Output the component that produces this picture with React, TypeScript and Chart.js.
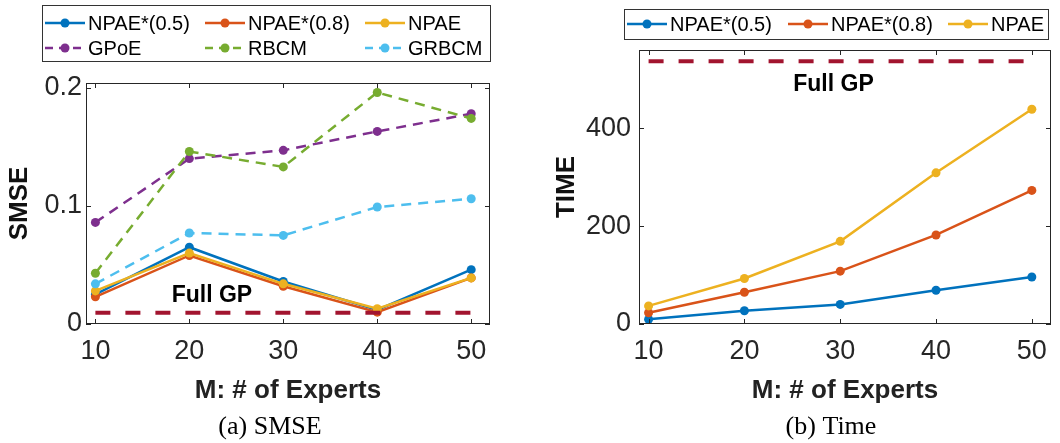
import React, { useEffect, useRef } from "react";
import { Chart, registerables } from "chart.js";

Chart.register(...registerables);

// ---------- data ----------
const experts = [10, 20, 30, 40, 50];
const expertTicks = [10, 20, 30, 40, 50];

const smseNpae05 = [0.025, 0.065, 0.036, 0.012, 0.046];
const smseNpae08 = [0.023, 0.058, 0.032, 0.01, 0.039];
const smseNpae = [0.028, 0.06, 0.034, 0.013, 0.039];
const smseGpoe = [0.086, 0.14, 0.147, 0.163, 0.178];
const smseRbcm = [0.043, 0.146, 0.133, 0.196, 0.174];
const smseGrbcm = [0.034, 0.077, 0.075, 0.099, 0.106];
const smseFullGp = 0.0095;
const smseTicks = [0, 0.1, 0.2];

const timeNpae05 = [9.5, 27, 40, 69, 96];
const timeNpae08 = [23, 65, 108, 182, 273];
const timeNpae = [37, 93, 169, 309, 439];
const timeFullGp = 537;
const timeTicks = [0, 200, 400];

const seriesNames = ["NPAE*(0.5)", "NPAE*(0.8)", "NPAE", "GPoE", "RBCM", "GRBCM"];
const fullGpName = "Full GP";

const COLORS = ["#0072BD", "#D95319", "#EDB120", "#7E2F8E", "#77AC30", "#4DBEEE"];
const FULLGP_COLOR = "#A2142F";
const AXIS_COLOR = "#262626";
const SANS = "'Liberation Sans', Arial, sans-serif";
const SERIF = "'Liberation Serif', 'Times New Roman', serif";

const toPts = (ys: number[]) => ys.map((y, i) => ({ x: experts[i], y }));
const flatLine = (v: number) => [
  { x: experts[0], y: v },
  { x: experts[experts.length - 1], y: v },
];

function seriesDataset(i: number, ys: number[], dashed: boolean, n: number) {
  return {
    label: seriesNames[i],
    data: toPts(ys),
    borderColor: COLORS[i],
    backgroundColor: COLORS[i],
    borderWidth: 2.5,
    borderDash: dashed ? [10, 7] : [],
    pointRadius: 4.5,
    pointBackgroundColor: COLORS[i],
    pointBorderWidth: 0,
    fill: false,
    tension: 0,
    order: n - i,
  };
}

function fullGpDataset(v: number) {
  return {
    label: fullGpName,
    data: flatLine(v),
    borderColor: FULLGP_COLOR,
    backgroundColor: FULLGP_COLOR,
    borderWidth: 4,
    borderDash: [15, 15],
    pointRadius: 0,
    fill: false,
    order: 0,
  };
}

type Spec = {
  datasets: any[];
  yMax: number;
  yTicks: number[];
  yTitle: string;
  yTitlePad: number;
  yTickPad: number;
  yWidth: number;
  top: number;
  right: number;
  legendBox: [number, number, number, number];
  legendCols: number[];
  legendRows: number[];
  legendCount: number;
  label: { x: number; y: number };
  caption: { text: string; x: number; y: number };
};

function makePlugin(spec: Spec) {
  return {
    id: "decor",
    afterDraw(chart: any) {
      const ctx = chart.ctx;
      const a = chart.chartArea;
      const xs = chart.scales.x;
      const ys = chart.scales.y;
      ctx.save();
      // frame
      ctx.strokeStyle = AXIS_COLOR;
      ctx.lineWidth = 1;
      ctx.setLineDash([]);
      ctx.strokeRect(a.left + 0.5, a.top + 0.5, a.right - a.left - 1, a.bottom - a.top - 1);
      // inward ticks
      const tl = 5;
      ctx.beginPath();
      expertTicks.forEach((v) => {
        const px = Math.round(xs.getPixelForValue(v)) + 0.5;
        ctx.moveTo(px, a.bottom);
        ctx.lineTo(px, a.bottom - tl);
        ctx.moveTo(px, a.top);
        ctx.lineTo(px, a.top + tl);
      });
      spec.yTicks.forEach((v) => {
        const py = Math.round(ys.getPixelForValue(v)) + 0.5;
        ctx.moveTo(a.left, py);
        ctx.lineTo(a.left + tl, py);
        ctx.moveTo(a.right, py);
        ctx.lineTo(a.right - tl, py);
      });
      ctx.stroke();

      // Full GP label
      ctx.fillStyle = "#000";
      ctx.font = `bold 23px ${SANS}`;
      ctx.textAlign = "center";
      ctx.textBaseline = "middle";
      ctx.fillText(fullGpName, xs.getPixelForValue(spec.label.x), ys.getPixelForValue(spec.label.y));

      // caption
      ctx.font = `26px ${SERIF}`;
      ctx.fillText(spec.caption.text, spec.caption.x, spec.caption.y);

      // legend
      const [bx, by, bw, bh] = spec.legendBox;
      ctx.fillStyle = "#fff";
      ctx.fillRect(bx, by, bw, bh);
      ctx.strokeStyle = "#333";
      ctx.lineWidth = 1;
      ctx.strokeRect(bx + 0.5, by + 0.5, bw, bh);
      ctx.font = `20px ${SANS}`;
      ctx.textAlign = "left";
      ctx.textBaseline = "middle";
      for (let i = 0; i < spec.legendCount; i++) {
        const ds = chart.data.datasets[i];
        const col = i % spec.legendCols.length;
        const row = Math.floor(i / spec.legendCols.length);
        const lx = spec.legendCols[col];
        const ly = spec.legendRows[row];
        ctx.strokeStyle = ds.borderColor;
        ctx.lineWidth = 2.5;
        ctx.setLineDash(ds.borderDash && ds.borderDash.length ? [8, 6] : []);
        ctx.beginPath();
        ctx.moveTo(lx, ly);
        ctx.lineTo(lx + 40, ly);
        ctx.stroke();
        ctx.setLineDash([]);
        ctx.fillStyle = ds.borderColor;
        ctx.beginPath();
        ctx.arc(lx + 20, ly, 4.5, 0, Math.PI * 2);
        ctx.fill();
        ctx.fillStyle = "#000";
        ctx.fillText(ds.label, lx + 43, ly + 1);
      }
      ctx.restore();
    },
  };
}

function buildConfig(spec: Spec): any {
  return {
    type: "line",
    data: { datasets: spec.datasets },
    plugins: [makePlugin(spec)],
    options: {
      animation: false,
      responsive: false,
      devicePixelRatio: 1,
      layout: { padding: { left: 0, top: spec.top, right: spec.right, bottom: 0 } },
      plugins: { legend: { display: false }, tooltip: { enabled: false }, title: { display: false } },
      scales: {
        x: {
          type: "linear",
          min: 9,
          max: 52,
          afterBuildTicks: (s: any) => {
            s.ticks = expertTicks.map((v) => ({ value: v }));
          },
          afterFit: (s: any) => {
            s.height = 443 - 324;
          },
          grid: { display: false, drawTicks: false },
          border: { display: false },
          ticks: {
            color: AXIS_COLOR,
            font: { family: SANS, size: 27 },
            padding: 11,
            maxRotation: 0,
            autoSkip: false,
          },
          title: {
            display: true,
            text: "M: # of Experts",
            color: "#222",
            font: { family: SANS, size: 26, weight: "bold" },
            padding: { top: 0, bottom: 36.5 },
          },
        },
        y: {
          type: "linear",
          min: 0,
          max: spec.yMax,
          afterBuildTicks: (s: any) => {
            s.ticks = spec.yTicks.map((v) => ({ value: v }));
          },
          afterFit: (s: any) => {
            s.width = spec.yWidth;
          },
          grid: { display: false, drawTicks: false },
          border: { display: false },
          ticks: {
            color: AXIS_COLOR,
            font: { family: SANS, size: 27 },
            padding: spec.yTickPad,
            callback: (v: number) => String(v),
          },
          title: {
            display: true,
            text: spec.yTitle,
            color: "#111",
            font: { family: SANS, size: 26, weight: "bold" },
            padding: { top: spec.yTitlePad, bottom: 0 },
          },
        },
      },
    },
  };
}

const smseSpec: Spec = {
  datasets: [
    seriesDataset(0, smseNpae05, false, 7),
    seriesDataset(1, smseNpae08, false, 7),
    seriesDataset(2, smseNpae, false, 7),
    seriesDataset(3, smseGpoe, true, 7),
    seriesDataset(4, smseRbcm, true, 7),
    seriesDataset(5, smseGrbcm, true, 7),
    fullGpDataset(smseFullGp),
  ],
  yMax: 0.204,
  yTicks: smseTicks,
  yTitle: "SMSE",
  yTitlePad: 4.4,
  yTickPad: 4,
  yWidth: 86,
  top: 83,
  right: 40,
  legendBox: [42, 5, 448, 56],
  legendCols: [45, 205, 365],
  legendRows: [23, 48],
  legendCount: 6,
  label: { x: 22.4, y: 0.024 },
  caption: { text: "(a) SMSE", x: 270, y: 427 },
};

const timeSpec: Spec = {
  datasets: [
    seriesDataset(0, timeNpae05, false, 4),
    seriesDataset(1, timeNpae08, false, 4),
    seriesDataset(2, timeNpae, false, 4),
    fullGpDataset(timeFullGp),
  ],
  yMax: 560,
  yTicks: timeTicks,
  yTitle: "TIME",
  yTitlePad: 21.4,
  yTickPad: 8,
  yWidth: 109,
  top: 50,
  right: 9,
  legendBox: [94, 9, 424, 30],
  legendCols: [97, 258, 418],
  legendRows: [24],
  legendCount: 3,
  label: { x: 29.3, y: 490 },
  caption: { text: "(b) Time", x: 301, y: 427 },
};

function SubChart({ spec, left }: { spec: Spec; left: number }) {
  const ref = useRef<HTMLCanvasElement | null>(null);
  useEffect(() => {
    if (!ref.current) return;
    const chart = new Chart(ref.current, buildConfig(spec));
    return () => chart.destroy();
  }, [spec]);
  return (
    <canvas
      ref={ref}
      width={530}
      height={443}
      style={{ position: "absolute", left, top: 0, width: 530, height: 443, display: "block" }}
    />
  );
}

export default function App() {
  return (
    <div
      style={{
        position: "absolute",
        left: 0,
        top: 0,
        width: 1060,
        height: 443,
        background: "#fff",
        overflow: "hidden",
      }}
    >
      <SubChart spec={smseSpec} left={0} />
      <SubChart spec={timeSpec} left={530} />
    </div>
  );
}
